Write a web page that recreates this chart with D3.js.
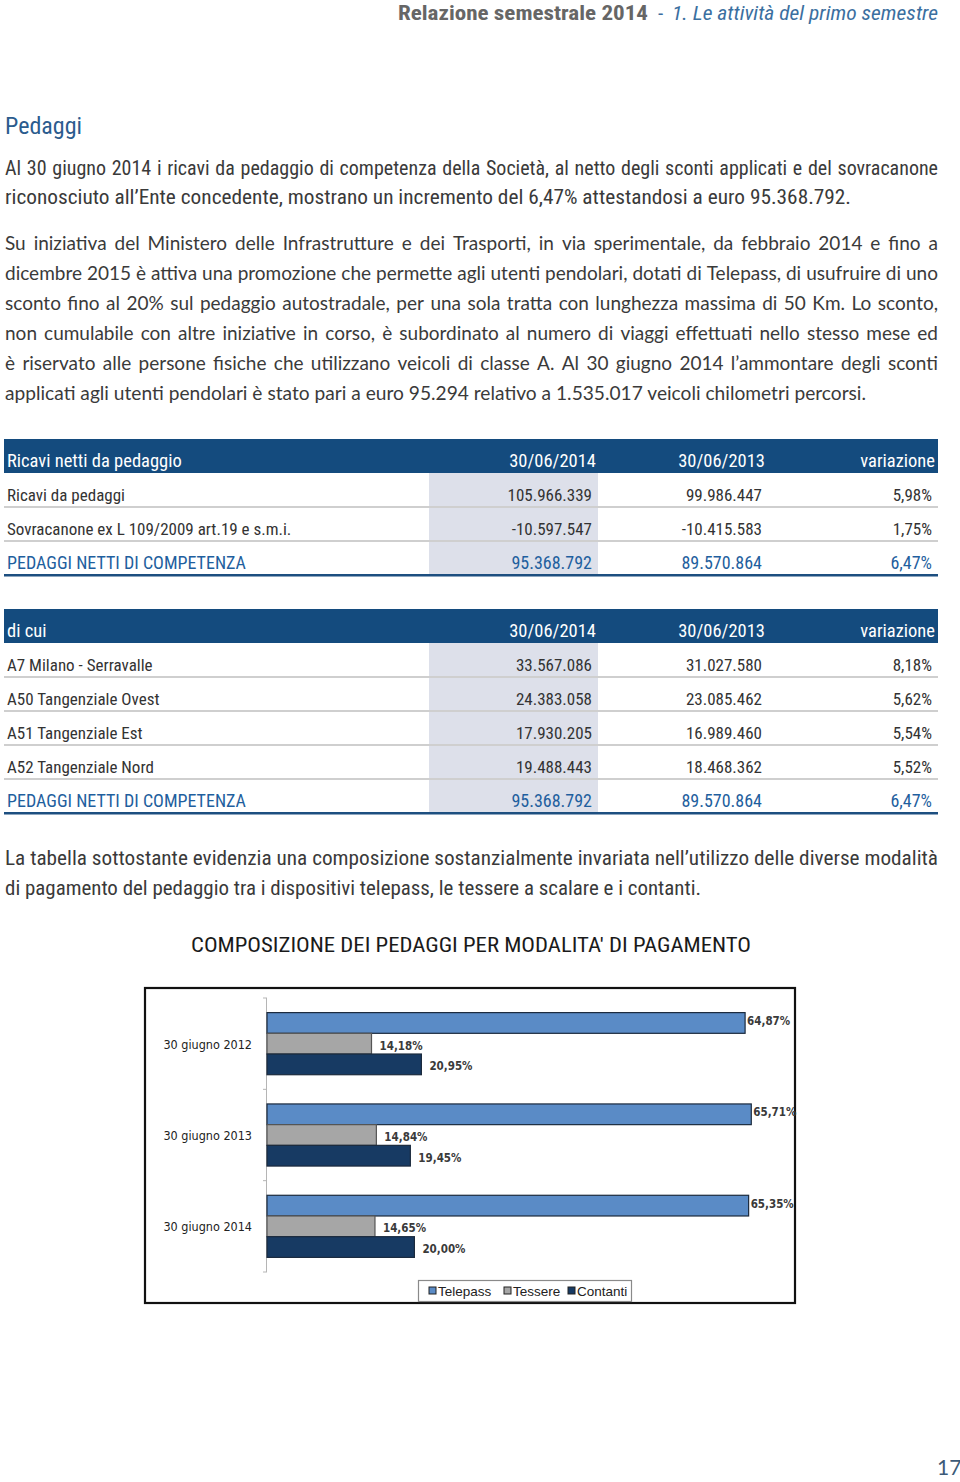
<!DOCTYPE html>
<html><head><meta charset="utf-8">
<script src="https://cdn.jsdelivr.net/npm/d3@7"></script>
<style>html,body{margin:0;padding:0;background:#fff;}svg{display:block;}</style>
</head><body>
<script>
// ---------------- DATA ----------------
const headerLeft = "Relazione semestrale 2014";
const headerDash = "-";
const headerRight = "1. Le attività del primo semestre";
const sectionTitle = "Pedaggi";
const para1 = [
  "Al 30 giugno 2014 i ricavi da pedaggio di competenza della Società, al netto degli sconti applicati e del sovracanone",
  "riconosciuto all’Ente concedente, mostrano un incremento del 6,47% attestandosi a euro 95.368.792."
];
const para2 = [
  "Su iniziativa del Ministero delle Infrastrutture e dei Trasporti, in via sperimentale, da febbraio 2014 e fino a",
  "dicembre 2015 è attiva una promozione che permette agli utenti pendolari, dotati di Telepass, di usufruire di uno",
  "sconto fino al 20% sul pedaggio autostradale, per una sola tratta con lunghezza massima di 50 Km. Lo sconto,",
  "non cumulabile con altre iniziative in corso, è subordinato al numero di viaggi effettuati nello stesso mese ed",
  "è riservato alle persone fisiche che utilizzano veicoli di classe A. Al 30 giugno 2014 l’ammontare degli sconti",
  "applicati agli utenti pendolari è stato pari a euro 95.294 relativo a 1.535.017 veicoli chilometri percorsi."
];
const para3 = [
  "La tabella sottostante evidenzia una composizione sostanzialmente invariata nell’utilizzo delle diverse modalità",
  "di pagamento del pedaggio tra i dispositivi telepass, le tessere a scalare e i contanti."
];
const table1Header = ["Ricavi netti da pedaggio", "30/06/2014", "30/06/2013", "variazione"];
const table1Rows = [
  ["Ricavi da pedaggi", "105.966.339", "99.986.447", "5,98%"],
  ["Sovracanone ex L 109/2009 art.19 e s.m.i.", "-10.597.547", "-10.415.583", "1,75%"]
];
const table1Total = ["PEDAGGI NETTI DI COMPETENZA", "95.368.792", "89.570.864", "6,47%"];
const table2Header = ["di cui", "30/06/2014", "30/06/2013", "variazione"];
const table2Rows = [
  ["A7 Milano - Serravalle", "33.567.086", "31.027.580", "8,18%"],
  ["A50 Tangenziale Ovest", "24.383.058", "23.085.462", "5,62%"],
  ["A51 Tangenziale Est", "17.930.205", "16.989.460", "5,54%"],
  ["A52 Tangenziale Nord", "19.488.443", "18.468.362", "5,52%"]
];
const table2Total = ["PEDAGGI NETTI DI COMPETENZA", "95.368.792", "89.570.864", "6,47%"];
const chartTitle = "COMPOSIZIONE DEI PEDAGGI PER MODALITA' DI PAGAMENTO";
const categories = ["30 giugno 2012", "30 giugno 2013", "30 giugno 2014"];
const seriesNames = ["Telepass", "Tessere", "Contanti"];
const telepass = [64.87, 65.71, 65.35];
const tessere = [14.18, 14.84, 14.65];
const contanti = [20.95, 19.45, 20.00];
const pageNumber = "17";

// ---------------- STYLE ----------------
const FN = "'Liberation Sans Narrow','Roboto Condensed','DejaVu Sans Condensed',sans-serif";
const FB = "Lato,'Open Sans',sans-serif";
const TXT = "#3a3a3a";
const BLUE = "#1f5f9e";
const BAND = "#144b7e";
const SHADE = "#dde0ea";
const seriesColors = ["#5a8bc6", "#a6a6a6", "#173a63"];

const svg = d3.select("body").append("svg").attr("width", 960).attr("height", 1482);

function styled(sel, st) {
  sel.style("font-family", st.font).style("font-size", st.size + "px")
     .style("font-weight", st.weight || "normal").style("font-style", st.style || "normal")
     .attr("fill", st.fill || TXT);
  return sel;
}
function measure(str, st) {
  const t = styled(svg.append("text"), st).text(str);
  const l = t.node().getComputedTextLength(); t.remove(); return l;
}
// draw a line of text; if target width given, either justify (word gaps) or stretch
function drawLine(x, y, str, st, target, justify) {
  const t = styled(svg.append("text").attr("x", x).attr("y", y), st);
  if (!target) { t.text(str); return t; }
  if (justify) {
    const words = str.split(" ");
    const ws = words.map(w => measure(w, st));
    const gap = (target - d3.sum(ws)) / (words.length - 1);
    if (gap > st.size * 0.18) {
      let cx = x;
      words.forEach((w, i) => {
        t.append("tspan").attr("x", cx).attr("y", y).text(w + (i < words.length - 1 ? " " : ""));
        cx += ws[i] + gap;
      });
      return t;
    }
  }
  t.text(str).attr("textLength", target).attr("lengthAdjust", "spacingAndGlyphs");
  return t;
}

// ---------------- HEADER ----------------
const hdr = {font: FN, size: 21, fill: "#666", weight: "bold"};
drawLine(398, 20, headerLeft, hdr, 250);
drawLine(658, 20, headerDash, {font: FN, size: 21, fill: "#3b6fa0"});
drawLine(672, 20, headerRight, {font: FN, size: 21, fill: "#3b6fa0", style: "italic"}, 266);

drawLine(5, 134, sectionTitle, {font: FN, size: 23, fill: "#2b5c8e"}, 77);

// ---------------- PARAGRAPHS ----------------
const p1 = {font: FN, size: 20, fill: TXT};
drawLine(5, 175, para1[0], p1, 933, true);
drawLine(5, 204, para1[1], p1, 846);

const p2 = {font: FB, size: 19, fill: TXT};
para2.forEach((s, i) => {
  const last = i === para2.length - 1;
  drawLine(5, 250 + i * 30, s, p2, last ? 861 : 933, !last);
});

// ---------------- TABLES ----------------
const colRight = [null, 592, 762, 932];
const hdrRight = [null, 596, 765, 935];
function drawTable(top, header, rows, total) {
  const rowH = 34;
  const nRows = rows.length + 1;
  const bodyTop = top + 34;
  const bodyBottom = bodyTop + nRows * rowH;
  // shaded column
  svg.append("rect").attr("x", 429).attr("y", bodyTop).attr("width", 169)
     .attr("height", nRows * rowH).attr("fill", SHADE);
  // header band
  svg.append("rect").attr("x", 4).attr("y", top).attr("width", 934).attr("height", 34).attr("fill", BAND);
  const hs = {font: FN, size: 18.5, fill: "#fff"};
  header.forEach((h, j) => {
    const t = drawLine(j === 0 ? 7 : hdrRight[j], top + 28, h, hs);
    if (j > 0) t.attr("text-anchor", "end");
  });
  const all = rows.concat([total]);
  all.forEach((r, i) => {
    const isTot = i === all.length - 1;
    const y0 = bodyTop + i * rowH;
    const st = {font: FN, size: isTot ? 18 : 17, fill: isTot ? BLUE : "#333"};
    r.forEach((c, j) => {
      const t = drawLine(j === 0 ? 7 : colRight[j], y0 + 28, c, st);
      if (j > 0) t.attr("text-anchor", "end");
    });
    if (!isTot) {
      svg.append("rect").attr("x", 4).attr("y", y0 + rowH - 1).attr("width", 934).attr("height", 2).attr("fill", "#cfcfcf");
    }
  });
  svg.append("rect").attr("x", 4).attr("y", bodyBottom - 1).attr("width", 934).attr("height", 2.5).attr("fill", "#1d4f80");
}
drawTable(439, table1Header, table1Rows, table1Total);
drawTable(609, table2Header, table2Rows, table2Total);

const p3 = {font: FN, size: 20, fill: TXT};
drawLine(5, 865, para3[0], p3, 933, false);
drawLine(5, 895, para3[1], p3, 696);

drawLine(191, 952, chartTitle, {font: FN, size: 21, fill: "#1a1a1a"}, 560);

// ---------------- CHART ----------------
svg.append("rect").attr("x", 145).attr("y", 988).attr("width", 650).attr("height", 315)
   .attr("fill", "#fff").attr("stroke", "#111").attr("stroke-width", 2.2);

const values = [telepass, tessere, contanti];
const x = d3.scaleLinear().domain([0, 100]).range([267, 1004]);
const y = d3.scaleBand().domain(categories).range([998, 1272]).paddingInner(0.32).paddingOuter(0.16);
const ys = d3.scaleBand().domain(seriesNames).range([0, y.bandwidth()]);

// axis
svg.append("line").attr("x1", x(0) - 0.5).attr("x2", x(0) - 0.5).attr("y1", y.range()[0]).attr("y2", y.range()[1])
   .attr("stroke", "#b5b5b5").attr("stroke-width", 1);
d3.range(categories.length + 1).forEach(i => {
  const yy = y.range()[0] + i * y.step();
  svg.append("line").attr("x1", x(0) - 4).attr("x2", x(0)).attr("y1", yy).attr("y2", yy)
     .attr("stroke", "#b5b5b5");
});
svg.selectAll("text.cat").data(categories).join("text").attr("class", "cat")
   .attr("x", 252).attr("y", d => y(d) + y.bandwidth() / 2 + 5).attr("text-anchor", "end")
   .style("font-family", "'DejaVu Sans Condensed','Liberation Sans',sans-serif").style("font-size", "12.5px")
   .attr("fill", "#222").text(d => d);

const barData = [];
categories.forEach((c, i) => seriesNames.forEach((s, k) => barData.push({c, s, k, v: values[k][i]})));
svg.selectAll("rect.bar").data(barData).join("rect").attr("class", "bar")
   .attr("x", x(0)).attr("y", d => y(d.c) + ys(d.s)).attr("width", d => x(d.v) - x(0))
   .attr("height", ys.bandwidth()).attr("fill", d => seriesColors[d.k])
   .attr("stroke", d => d.k === 1 ? "#555" : "#1b2a3d").attr("stroke-width", 1.2);
const fmt = v => v.toFixed(2).replace(".", ",") + "%";
svg.selectAll("text.val").data(barData).join("text").attr("class", "val")
   .attr("x", d => x(d.v) + (d.k === 0 ? 2 : 8)).attr("y", d => y(d.c) + ys(d.s) + ys.bandwidth() / 2 + (d.k === 0 ? 2 : 6))
   .style("font-family", "'DejaVu Sans Condensed','DejaVu Sans',sans-serif").style("font-size", "11.5px").style("font-weight", "bold")
   .attr("fill", "#3a3a3a").text(d => fmt(d.v));

// legend
svg.append("rect").attr("x", 418.5).attr("y", 1280.5).attr("width", 213).attr("height", 21)
   .attr("fill", "#fff").attr("stroke", "#8a8a8a").attr("stroke-width", 1.2);
const legX = [429, 504, 568];
seriesNames.forEach((s, k) => {
  svg.append("rect").attr("x", legX[k]).attr("y", 1287).attr("width", 7).attr("height", 7)
     .attr("fill", seriesColors[k]).attr("stroke", "#222").attr("stroke-width", 1);
  svg.append("text").attr("x", legX[k] + 9).attr("y", 1296)
     .style("font-family", "'Liberation Sans',Arial,sans-serif").style("font-size", "13.5px")
     .attr("fill", "#222").text(s);
});

// page number
drawLine(937, 1475, pageNumber, {font: FB, size: 21, fill: "#3c5a78"});
</script>
</body></html>
